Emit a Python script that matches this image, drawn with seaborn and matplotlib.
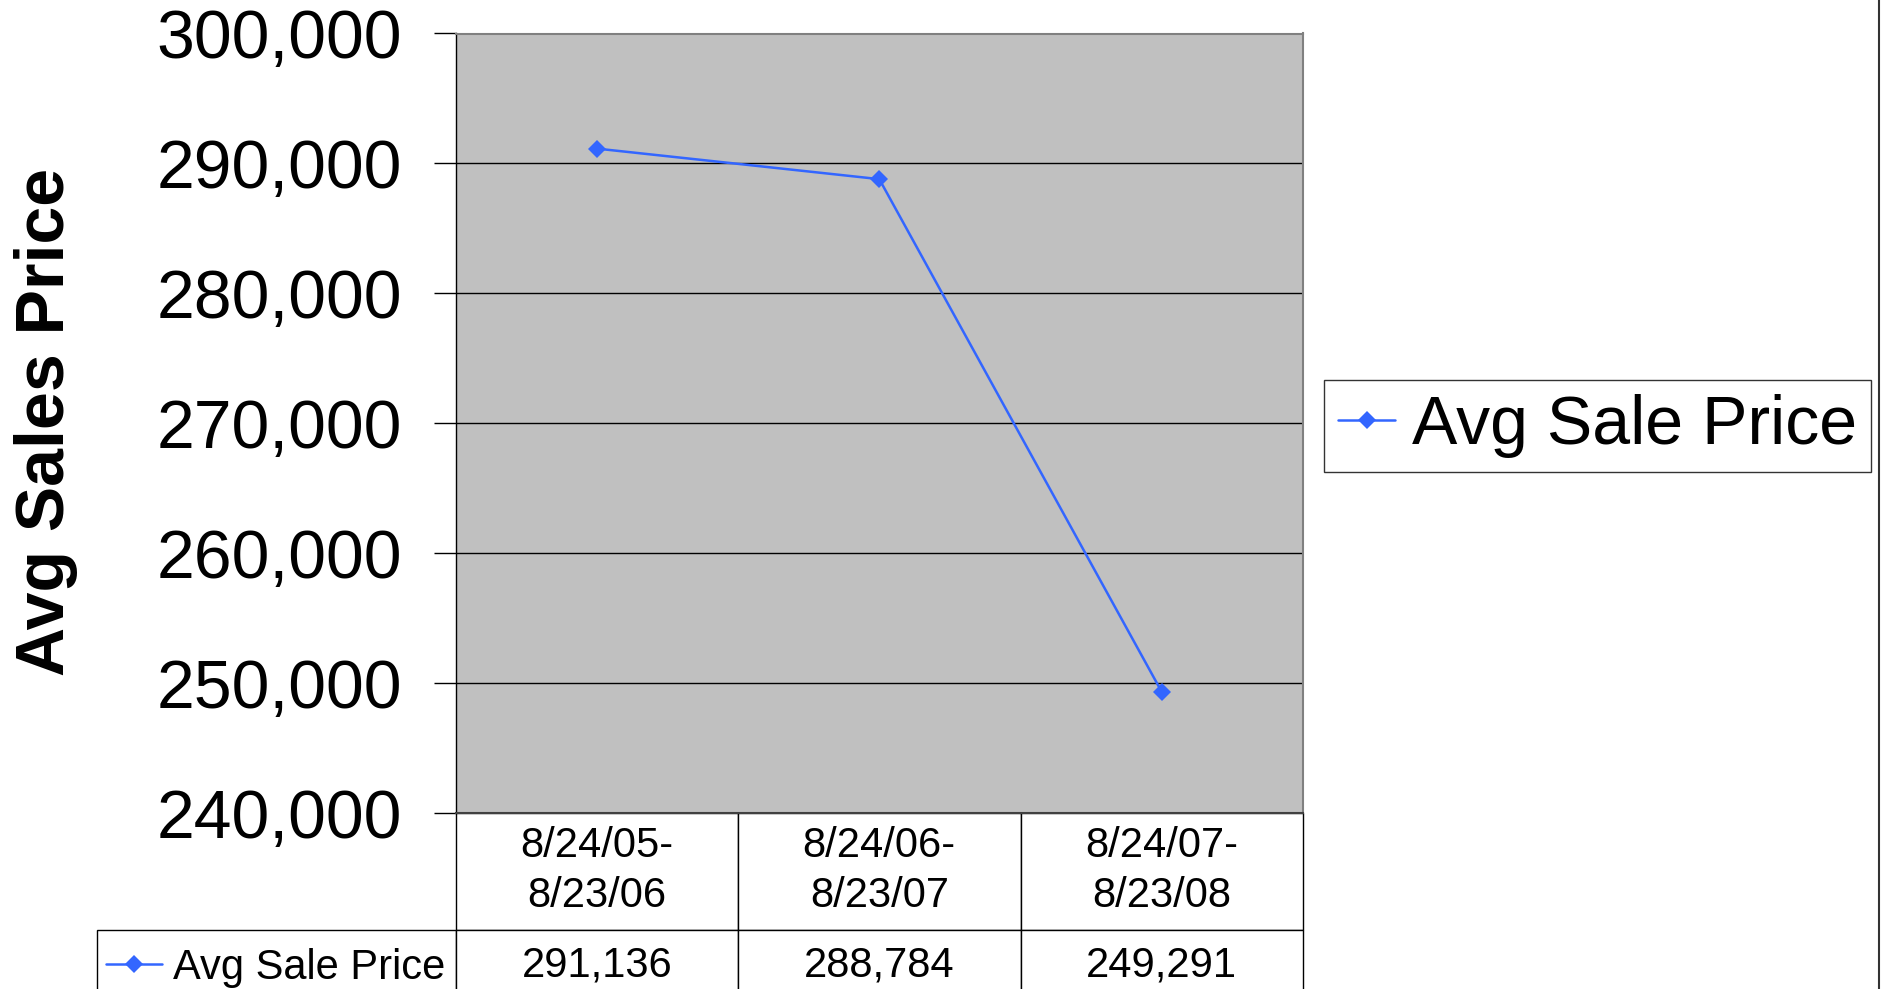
import matplotlib
matplotlib.use("Agg")
import matplotlib.pyplot as plt
from matplotlib.lines import Line2D
from matplotlib.ticker import FuncFormatter
import pandas as pd
import seaborn as sns

# Chart data
periods = ["8/24/05-\n8/23/06", "8/24/06-\n8/23/07", "8/24/07-\n8/23/08"]
avg_sale_price = [291136, 288784, 249291]
series_name = "Avg Sale Price"
y_label = "Avg Sales Price"
y_ticks = [240000, 250000, 260000, 270000, 280000, 290000, 300000]

LINE_BLUE = "#3366FF"
PLOT_GRAY = "#C0C0C0"

sns.set_theme(style="white")
plt.rcParams["font.family"] = ["Liberation Sans", "DejaVu Sans"]
plt.rcParams["text.color"] = "black"
plt.rcParams["legend.labelcolor"] = "black"

W, H = 1885, 989
fig = plt.figure(figsize=(W / 100, H / 100), dpi=100)

# plot area in pixel terms
left, right, top, bottom = 455.6, 1303.0, 33.5, 812.6
ax = fig.add_axes([left / W, 1 - bottom / H, (right - left) / W, (bottom - top) / H])
ax.set_facecolor(PLOT_GRAY)

df = pd.DataFrame({"period": periods, "price": avg_sale_price})
sns.lineplot(data=df, x="period", y="price", ax=ax, sort=False, legend=False,
             color=LINE_BLUE, linewidth=1.8, marker="D", markersize=9.5,
             markeredgewidth=0, zorder=3)

ax.set_xlim(-0.5, len(periods) - 0.5)
ax.set_ylim(y_ticks[0], y_ticks[-1])
ax.set_yticks(y_ticks)
ax.yaxis.set_major_formatter(FuncFormatter(lambda v, _: f"{v:,.0f}"))
ax.set_xticks([])
ax.set_xlabel("")
ax.set_ylabel("")
ax.yaxis.grid(True, color="black", linewidth=1.0, zorder=1)
ax.set_axisbelow(True)
ax.tick_params(axis="y", which="major", left=True, direction="out", length=16,
               width=1, color="black", labelsize=49, pad=22.5, labelcolor="black")

for side, spine in ax.spines.items():
    spine.set_visible(True)
ax.spines["left"].set_color("black")
ax.spines["left"].set_linewidth(1.0)
ax.spines["top"].set_color("#808080")
ax.spines["top"].set_linewidth(1.5)
ax.spines["right"].set_color("#808080")
ax.spines["right"].set_linewidth(1.5)
ax.spines["bottom"].set_color("#404040")
ax.spines["bottom"].set_linewidth(1.5)

fig.text(46 / W, 1 - 422 / H, y_label, rotation=90, ha="center", va="center",
         fontsize=49, fontweight="bold", color="black")

# data table below the plot area; the bbox covers the value columns and the
# row label column sits to their left
axh = bottom - top
axw = right - left
table_left = 97.4
header_h = 930 - bottom
row_h = 1000 - 930
col_w = axw / len(periods)
label_w = left - table_left

tbl = ax.table(cellText=[[f"{v:,}" for v in avg_sale_price]],
               colLabels=periods, cellLoc="center",
               colWidths=[col_w / axw] * len(periods),
               bbox=[0, -(header_h + row_h) / axh, 1, (header_h + row_h) / axh])
# row label cell; the series key is drawn into it below
tbl.add_cell(1, -1, width=label_w / axw, height=row_h / axh, text="")
tbl.auto_set_font_size(False)
tbl.set_fontsize(30)
for (r, c), cell in tbl.get_celld().items():
    cell.set_edgecolor("black")
    cell.set_linewidth(1.0)
    cell.set_facecolor("white")
    cell.set_width((label_w if c == -1 else col_w) / axw)
    cell.set_height((header_h if r == 0 else row_h) / axh)
    cell.get_text().set_color("black")
    if r == 0:
        cell.get_text().set_linespacing(1.32)
tbl.set_clip_on(False)

series_line = ax.lines[0]

# key inside the table's row label cell
fig.legend(handles=[series_line], labels=[series_name], loc="center left",
           bbox_to_anchor=(106 / W, 1 - 968 / H), frameon=False, fontsize=30,
           handlelength=1.35, handletextpad=0.25, borderpad=0, borderaxespad=0,
           labelcolor="black")

# legend to the right of the plot
leg = fig.legend(handles=[series_line], labels=[series_name], loc="center left",
                 bbox_to_anchor=(1324 / W, 1 - 426 / H), fontsize=49,
                 handlelength=0.85, handletextpad=0.24, borderpad=0.2,
                 borderaxespad=0, fancybox=False, shadow=False, frameon=True,
                 labelcolor="black")
leg.get_frame().set_edgecolor("black")
leg.get_frame().set_linewidth(1.0)
leg.get_frame().set_facecolor("white")

# chart area right border
fig.add_artist(Line2D([1879 / W, 1879 / W], [0, 1], transform=fig.transFigure,
                      color="#333333", linewidth=1.5))

fig.savefig("out.png", dpi=100)
